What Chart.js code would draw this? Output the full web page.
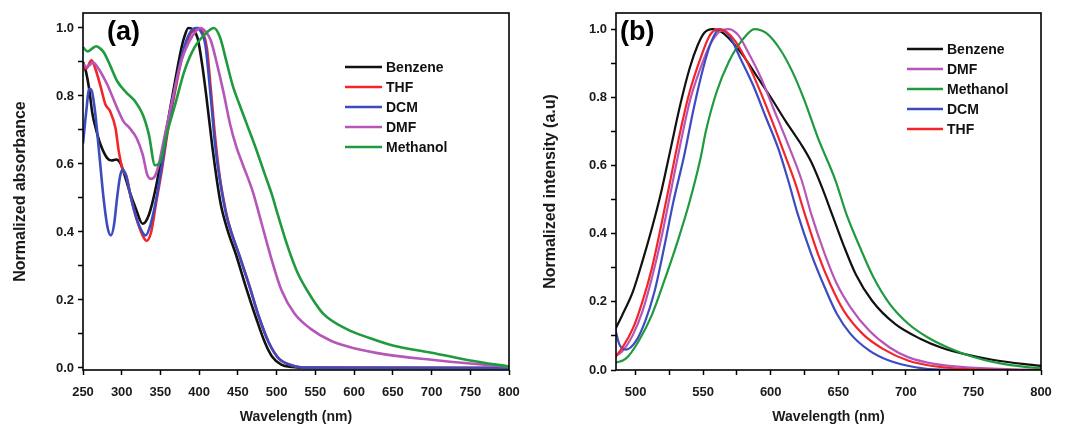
<!DOCTYPE html>
<html>
<head>
<meta charset="utf-8">
<script src="https://cdn.jsdelivr.net/npm/chart.js@4.4.1/dist/chart.umd.min.js"></script>
<style>
    html, body { margin: 0; padding: 0; background: #fff; }
    body { width: 1070px; height: 429px; position: relative; overflow: hidden; }
    #painelA { position: absolute; left: 0; top: 0; }
    #painelB { position: absolute; left: 530px; top: 0; }
</style>
</head>
<body>
<canvas id="painelA" width="530" height="429"></canvas>
<canvas id="painelB" width="540" height="429"></canvas>
<script>
// ---- Painel (a): absorção normalizada ----
const absBenzenoX = [250, 254, 258, 262, 267, 273, 281, 287, 293, 298, 302, 310, 318, 327, 335, 344, 352, 360, 369, 377, 381, 386, 392, 398, 404, 410, 417, 423, 428, 436, 448, 460, 473, 485, 494, 506, 520, 540, 800];
const absBenzenoY = [0.90, 0.87, 0.82, 0.75, 0.70, 0.655, 0.618, 0.61, 0.613, 0.603, 0.58, 0.52, 0.47, 0.424, 0.45, 0.53, 0.63, 0.73, 0.845, 0.94, 0.975, 1.0, 0.995, 0.97, 0.89, 0.785, 0.65, 0.55, 0.48, 0.41, 0.33, 0.24, 0.15, 0.074, 0.034, 0.01, 0.003, 0.0, 0.0];

const absTHFX = [250, 254, 261, 266, 273, 279, 285, 292, 296, 300, 302, 306, 312, 319, 326, 332, 338, 344, 352, 360, 369, 377, 385, 393, 399, 405, 410, 415, 421, 427, 435, 440, 452, 465, 477, 490, 502, 519, 540, 800];
const absTHFY = [0.895, 0.88, 0.905, 0.88, 0.825, 0.775, 0.755, 0.705, 0.64, 0.593, 0.578, 0.565, 0.50, 0.44, 0.395, 0.374, 0.40, 0.48, 0.585, 0.705, 0.815, 0.905, 0.965, 0.995, 1.0, 0.985, 0.94, 0.82, 0.67, 0.555, 0.455, 0.41, 0.33, 0.24, 0.15, 0.074, 0.03, 0.008, 0.001, 0.0];

const absDCMX = [250, 254, 258, 260, 265, 271, 277, 282, 286, 290, 294, 298, 301, 305, 312, 319, 326, 331, 337, 344, 352, 360, 369, 377, 385, 392, 397, 402, 408, 415, 421, 427, 435, 440, 452, 465, 477, 490, 502, 519, 540, 800];
const absDCMY = [0.66, 0.75, 0.82, 0.82, 0.765, 0.63, 0.49, 0.41, 0.39, 0.42, 0.50, 0.565, 0.583, 0.57, 0.50, 0.44, 0.402, 0.39, 0.42, 0.49, 0.598, 0.716, 0.825, 0.913, 0.972, 0.997, 1.0, 0.99, 0.95, 0.795, 0.647, 0.549, 0.45, 0.41, 0.33, 0.24, 0.152, 0.074, 0.03, 0.008, 0.001, 0.0];

const absDMFX = [250, 255, 258, 263, 269, 281, 294, 302, 310, 319, 327, 333, 338, 343, 348, 354, 365, 377, 390, 402, 408, 415, 423, 431, 440, 448, 456, 469, 480, 494, 506, 523, 544, 570, 600, 640, 700, 750, 800];
const absDMFY = [0.895, 0.885, 0.89, 0.898, 0.884, 0.835, 0.765, 0.726, 0.706, 0.677, 0.628, 0.568, 0.556, 0.565, 0.60, 0.667, 0.785, 0.903, 0.972, 1.0, 0.99, 0.963, 0.894, 0.815, 0.716, 0.65, 0.60, 0.52, 0.43, 0.315, 0.23, 0.16, 0.115, 0.08, 0.058, 0.04, 0.024, 0.013, 0.004];

const absMetanolX = [250, 256, 262, 267, 272, 277, 285, 294, 306, 317, 327, 335, 343, 350, 358, 369, 381, 394, 410, 419, 427, 435, 444, 452, 460, 473, 485, 494, 502, 514, 527, 544, 560, 590, 620, 650, 700, 750, 800];
const absMetanolY = [0.943, 0.931, 0.94, 0.946, 0.94, 0.928, 0.89, 0.844, 0.81, 0.785, 0.746, 0.687, 0.596, 0.608, 0.687, 0.775, 0.874, 0.943, 0.987, 1.0, 0.972, 0.903, 0.825, 0.775, 0.726, 0.647, 0.568, 0.509, 0.447, 0.359, 0.28, 0.211, 0.16, 0.115, 0.088, 0.066, 0.045, 0.022, 0.004];

const ticksAX = [250, 300, 350, 400, 450, 500, 550, 600, 650, 700, 750, 800];
const ticksAY = [0, 0.1, 0.2, 0.3, 0.4, 0.5, 0.6, 0.7, 0.8, 0.9, 1.0];

// ---- Painel (b): emissão normalizada ----
const emiBenzenoX = [484, 490, 498, 505, 512, 519, 526, 533, 540, 546, 551, 557, 564, 572, 580, 590, 600, 611, 622, 630, 638, 646, 654, 663, 675, 692, 711, 726, 745, 764, 788, 800];
const emiBenzenoY = [0.112, 0.16, 0.23, 0.318, 0.415, 0.523, 0.65, 0.777, 0.885, 0.953, 0.99, 1.0, 0.99, 0.96, 0.92, 0.86, 0.80, 0.73, 0.665, 0.61, 0.535, 0.45, 0.365, 0.28, 0.203, 0.135, 0.091, 0.066, 0.045, 0.03, 0.017, 0.012];

const emiDMFX = [484, 490, 498, 505, 512, 519, 526, 533, 540, 548, 555, 562, 569, 576, 583, 593, 602, 612, 623, 630, 640, 649, 659, 673, 688, 702, 721, 745, 788, 800];
const emiDMFY = [0.039, 0.054, 0.103, 0.171, 0.269, 0.386, 0.523, 0.66, 0.787, 0.885, 0.953, 0.992, 1.0, 0.982, 0.934, 0.855, 0.767, 0.67, 0.555, 0.457, 0.34, 0.252, 0.184, 0.115, 0.066, 0.037, 0.018, 0.008, 0.001, 0.0];

const emiMetanolX = [484, 493, 502, 512, 521, 531, 540, 548, 552, 560, 569, 579, 588, 597, 607, 616, 625, 635, 648, 656, 666, 676, 688, 702, 716, 731, 750, 769, 788, 800];
const emiMetanolY = [0.02, 0.034, 0.083, 0.161, 0.259, 0.376, 0.494, 0.62, 0.70, 0.816, 0.904, 0.968, 1.0, 0.987, 0.94, 0.875, 0.79, 0.68, 0.555, 0.457, 0.36, 0.272, 0.194, 0.135, 0.096, 0.066, 0.038, 0.02, 0.009, 0.005];

const emiDCMX = [484, 488, 493, 500, 507, 514, 521, 528, 536, 543, 550, 556, 562, 569, 578, 587, 596, 606, 613, 620, 630, 640, 649, 659, 673, 688, 707, 726, 800];
const emiDCMY = [0.137, 0.075, 0.06, 0.083, 0.142, 0.23, 0.357, 0.494, 0.63, 0.767, 0.885, 0.963, 1.0, 0.982, 0.91, 0.835, 0.745, 0.645, 0.555, 0.457, 0.34, 0.242, 0.164, 0.106, 0.057, 0.027, 0.008, 0.001, 0.0];

const emiTHFX = [484, 490, 498, 505, 512, 519, 526, 533, 540, 548, 555, 561, 567, 574, 583, 593, 603, 612, 618, 625, 635, 644, 654, 668, 683, 702, 721, 745, 788, 800];
const emiTHFY = [0.034, 0.064, 0.122, 0.20, 0.298, 0.425, 0.562, 0.699, 0.816, 0.914, 0.982, 1.0, 0.992, 0.963, 0.90, 0.81, 0.71, 0.615, 0.55, 0.46, 0.34, 0.252, 0.174, 0.106, 0.062, 0.027, 0.011, 0.003, 0.0, 0.0];

const ticksBX = [500, 525, 550, 575, 600, 625, 650, 675, 700, 725, 750, 775, 800];
const ticksBY = [0, 0.1, 0.2, 0.3, 0.4, 0.5, 0.6, 0.7, 0.8, 0.9, 1.0];

// Cores das curvas
const cores = {
    Benzene: '#111111',
    THF: '#f2262a',
    DCM: '#3c4cc0',
    DMF: '#b556b8',
    Methanol: '#1f9a3e'
};

const fonte = '"Liberation Sans", Arial, sans-serif';

// Junta x e y em pontos para o Chart.js
function pares(xs, ys) {
    return xs.map((x, i) => ({ x: x, y: ys[i] }));
}

function serie(nome, xs, ys, ordem, espessura) {
    return {
        label: nome,
        data: pares(xs, ys),
        borderColor: cores[nome],
        backgroundColor: cores[nome],
        borderWidth: espessura,
        pointRadius: 0,
        fill: false,
        cubicInterpolationMode: 'monotone',
        order: ordem
    };
}

// Moldura, rótulo (a)/(b) e legenda desenhados sobre a área do gráfico
const molduraPlugin = {
    id: 'moldura',
    afterDraw(chart, args, opts) {
        const { ctx, chartArea: a } = chart;
        ctx.save();
        ctx.strokeStyle = '#000';
        ctx.lineWidth = 1.6;
        ctx.strokeRect(a.left, a.top, a.right - a.left, a.bottom - a.top);

        ctx.fillStyle = '#000';
        ctx.textBaseline = 'middle';
        ctx.textAlign = 'left';
        ctx.font = 'bold 27px ' + fonte;
        ctx.fillText(opts.rotulo, opts.rotuloX, opts.rotuloY);

        ctx.font = 'bold 14px ' + fonte;
        chart.data.datasets.forEach((ds, i) => {
            const y = opts.legY + i * opts.legPasso;
            ctx.strokeStyle = ds.borderColor;
            ctx.lineWidth = 2.5;
            ctx.beginPath();
            ctx.moveTo(opts.legX, y);
            ctx.lineTo(opts.legX + opts.legLinha, y);
            ctx.stroke();
            ctx.fillStyle = '#111';
            ctx.fillText(ds.label, opts.legX + opts.legLinha + 4, y + 1);
        });
        ctx.restore();
    }
};

function criarPainel(id, datasets, cfg) {
    return new Chart(document.getElementById(id), {
        type: 'line',
        data: { datasets: datasets },
        plugins: [molduraPlugin],
        options: {
            responsive: false,
            animation: false,
            events: [],
            layout: { padding: { top: 13, right: cfg.direita, bottom: 0, left: 0 } },
            plugins: {
                legend: { display: false },
                tooltip: { enabled: false },
                moldura: cfg.moldura
            },
            scales: {
                x: {
                    type: 'linear',
                    min: cfg.xMin,
                    max: cfg.xMax,
                    afterBuildTicks: (s) => { s.ticks = cfg.ticksX.map(v => ({ value: v })); },
                    afterFit: (s) => { s.height = 59; },
                    grid: { drawOnChartArea: false, drawTicks: true, tickLength: 5, tickColor: '#000', tickWidth: 1.5 },
                    border: { display: false },
                    ticks: {
                        autoSkip: false,
                        maxRotation: 0,
                        padding: 10,
                        color: '#1a1a1a',
                        font: { family: fonte, size: 13, weight: 'bold' },
                        callback: (v) => (v % 50 === 0 ? String(v) : '')
                    },
                    title: {
                        display: true,
                        text: 'Wavelength (nm)',
                        color: '#1a1a1a',
                        font: { family: fonte, size: 14, weight: 'bold' },
                        padding: { top: 0, bottom: 3 }
                    }
                },
                y: {
                    type: 'linear',
                    min: cfg.yMin,
                    max: cfg.yMax,
                    afterBuildTicks: (s) => { s.ticks = cfg.ticksY.map(v => ({ value: v })); },
                    afterFit: (s) => { s.width = cfg.esquerda; },
                    grid: { drawOnChartArea: false, drawTicks: true, tickLength: 5, tickColor: '#000', tickWidth: 1.5 },
                    border: { display: false },
                    ticks: {
                        autoSkip: false,
                        padding: 4,
                        color: '#1a1a1a',
                        font: { family: fonte, size: 13, weight: 'bold' },
                        callback: (v) => (Math.round(v * 10) % 2 === 0 ? v.toFixed(1) : '')
                    },
                    title: {
                        display: true,
                        text: cfg.tituloY,
                        color: '#1a1a1a',
                        font: { family: fonte, size: 16, weight: 'bold' },
                        padding: { top: 11, bottom: 0 }
                    }
                }
            }
        }
    });
}

document.addEventListener('DOMContentLoaded', () => {
    criarPainel('painelA', [
        serie('Benzene', absBenzenoX, absBenzenoY, 5, 2.6),
        serie('THF', absTHFX, absTHFY, 4, 2.6),
        serie('DCM', absDCMX, absDCMY, 3, 2.6),
        serie('DMF', absDMFX, absDMFY, 2, 2.6),
        serie('Methanol', absMetanolX, absMetanolY, 1, 2.6)
    ], {
        xMin: 250, xMax: 800, yMin: -0.006, yMax: 1.044,
        ticksX: ticksAX, ticksY: ticksAY,
        esquerda: 83, direita: 21,
        tituloY: 'Normalized absorbance',
        moldura: { rotulo: '(a)', rotuloX: 107, rotuloY: 33, legX: 345, legY: 67, legPasso: 20, legLinha: 37 }
    });

    criarPainel('painelB', [
        serie('Benzene', emiBenzenoX, emiBenzenoY, 5, 2.2),
        serie('DMF', emiDMFX, emiDMFY, 4, 2.2),
        serie('Methanol', emiMetanolX, emiMetanolY, 3, 2.2),
        serie('DCM', emiDCMX, emiDCMY, 2, 2.2),
        serie('THF', emiTHFX, emiTHFY, 1, 2.2)
    ], {
        xMin: 485.5, xMax: 800, yMin: 0, yMax: 1.047,
        ticksX: ticksBX, ticksY: ticksBY,
        esquerda: 86, direita: 29,
        tituloY: 'Normalized intensity (a.u)',
        moldura: { rotulo: '(b)', rotuloX: 90, rotuloY: 33, legX: 377, legY: 49, legPasso: 20, legLinha: 36 }
    });
});
</script>
</body>
</html>
